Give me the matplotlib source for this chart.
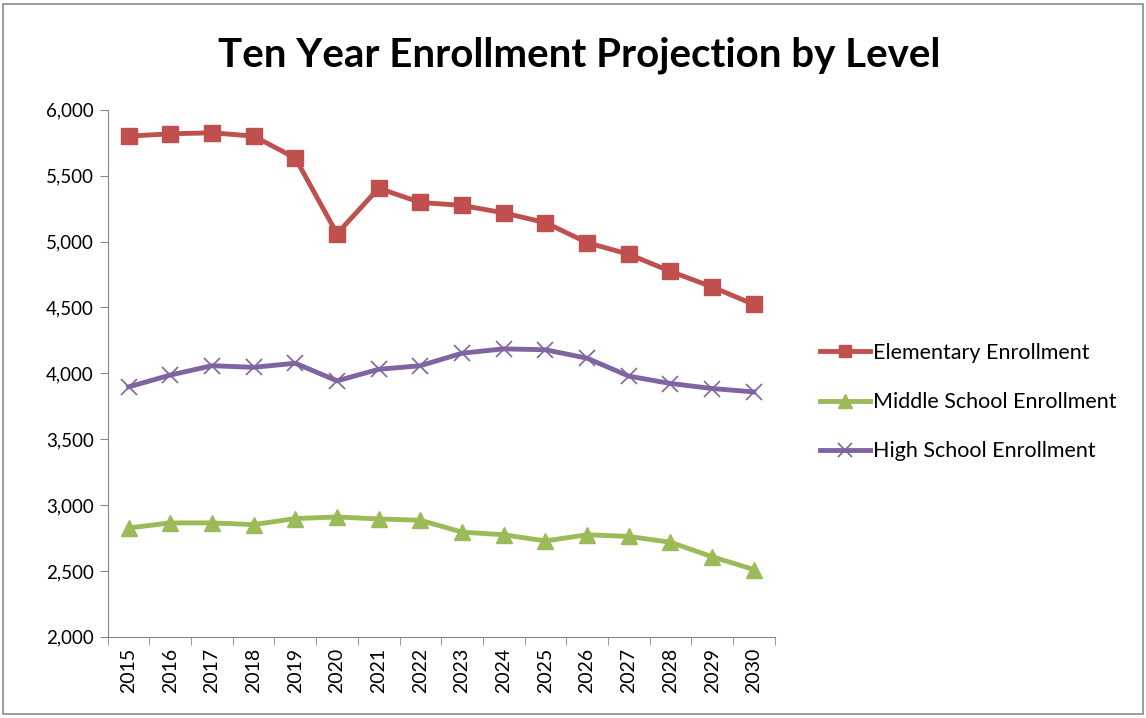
import matplotlib
matplotlib.use("Agg")
import matplotlib.pyplot as plt
from matplotlib.patches import Rectangle
from matplotlib.ticker import FuncFormatter, FixedLocator

# Data
years = [str(y) for y in range(2015, 2031)]
elementary = [5801, 5818, 5826, 5801, 5634, 5060, 5405, 5297, 5275,
              5218, 5144, 4992, 4904, 4774, 4656, 4523]
middle = [2826, 2865, 2865, 2852, 2898, 2910, 2895, 2885, 2795,
          2775, 2728, 2775, 2762, 2718, 2608, 2511]
high = [3897, 3987, 4058, 4046, 4077, 3943, 4031, 4058, 4153,
        4186, 4179, 4115, 3979, 3923, 3885, 3859]

plt.rcParams['font.family'] = ['Lato', 'DejaVu Sans']

fig = plt.figure(figsize=(11.46, 7.18), dpi=100)
ax = fig.add_axes([0.094, 0.113, 0.582, 0.734])

x = list(range(len(years)))
ax.plot(x, elementary, color='#C0504D', lw=3.5, marker='s', ms=11,
        label='Elementary Enrollment')
ax.plot(x, middle, color='#9BBB59', lw=3.5, marker='^', ms=12,
        label='Middle School Enrollment')
ax.plot(x, high, color='#8064A2', lw=3.5, marker='x', ms=12, mew=1.2,
        label='High School Enrollment')

ax.set_xlim(-0.5, len(years) - 0.5)
ax.set_ylim(2000, 6000)
ax.set_yticks(range(2000, 6001, 500))
ax.yaxis.set_major_formatter(FuncFormatter(lambda v, p: f"{int(v):,}"))

# category labels centered, tick marks between categories
ax.set_xticks(x)
ax.set_xticklabels(years, rotation=90)
ax.xaxis.set_minor_locator(FixedLocator([i - 0.5 for i in range(len(years) + 1)]))
ax.tick_params(axis='x', which='major', length=0, pad=8, labelsize=14)
ax.tick_params(axis='x', which='minor', length=6, color='#868686')
ax.tick_params(axis='y', length=6, color='#868686', pad=4, labelsize=13.5)

for s in ['top', 'right']:
    ax.spines[s].set_visible(False)
for s in ['left', 'bottom']:
    ax.spines[s].set_color('#868686')

fig.text(0.505, 0.923, 'Ten Year Enrollment Projection by Level',
         ha='center', va='center', fontsize=29, fontweight='bold')

ax.legend(loc='center left', bbox_to_anchor=(0.699, 0.44),
          bbox_transform=fig.transFigure, frameon=False, fontsize=15.5,
          handlelength=2.3, handletextpad=0.15, labelspacing=1.35,
          markerscale=0.8)

fig.patches.append(Rectangle((0.003, 0.006), 0.994, 0.988, transform=fig.transFigure,
                             fill=False, edgecolor='#8c8c8c', lw=1.2))

fig.savefig('out.png', dpi=100)
